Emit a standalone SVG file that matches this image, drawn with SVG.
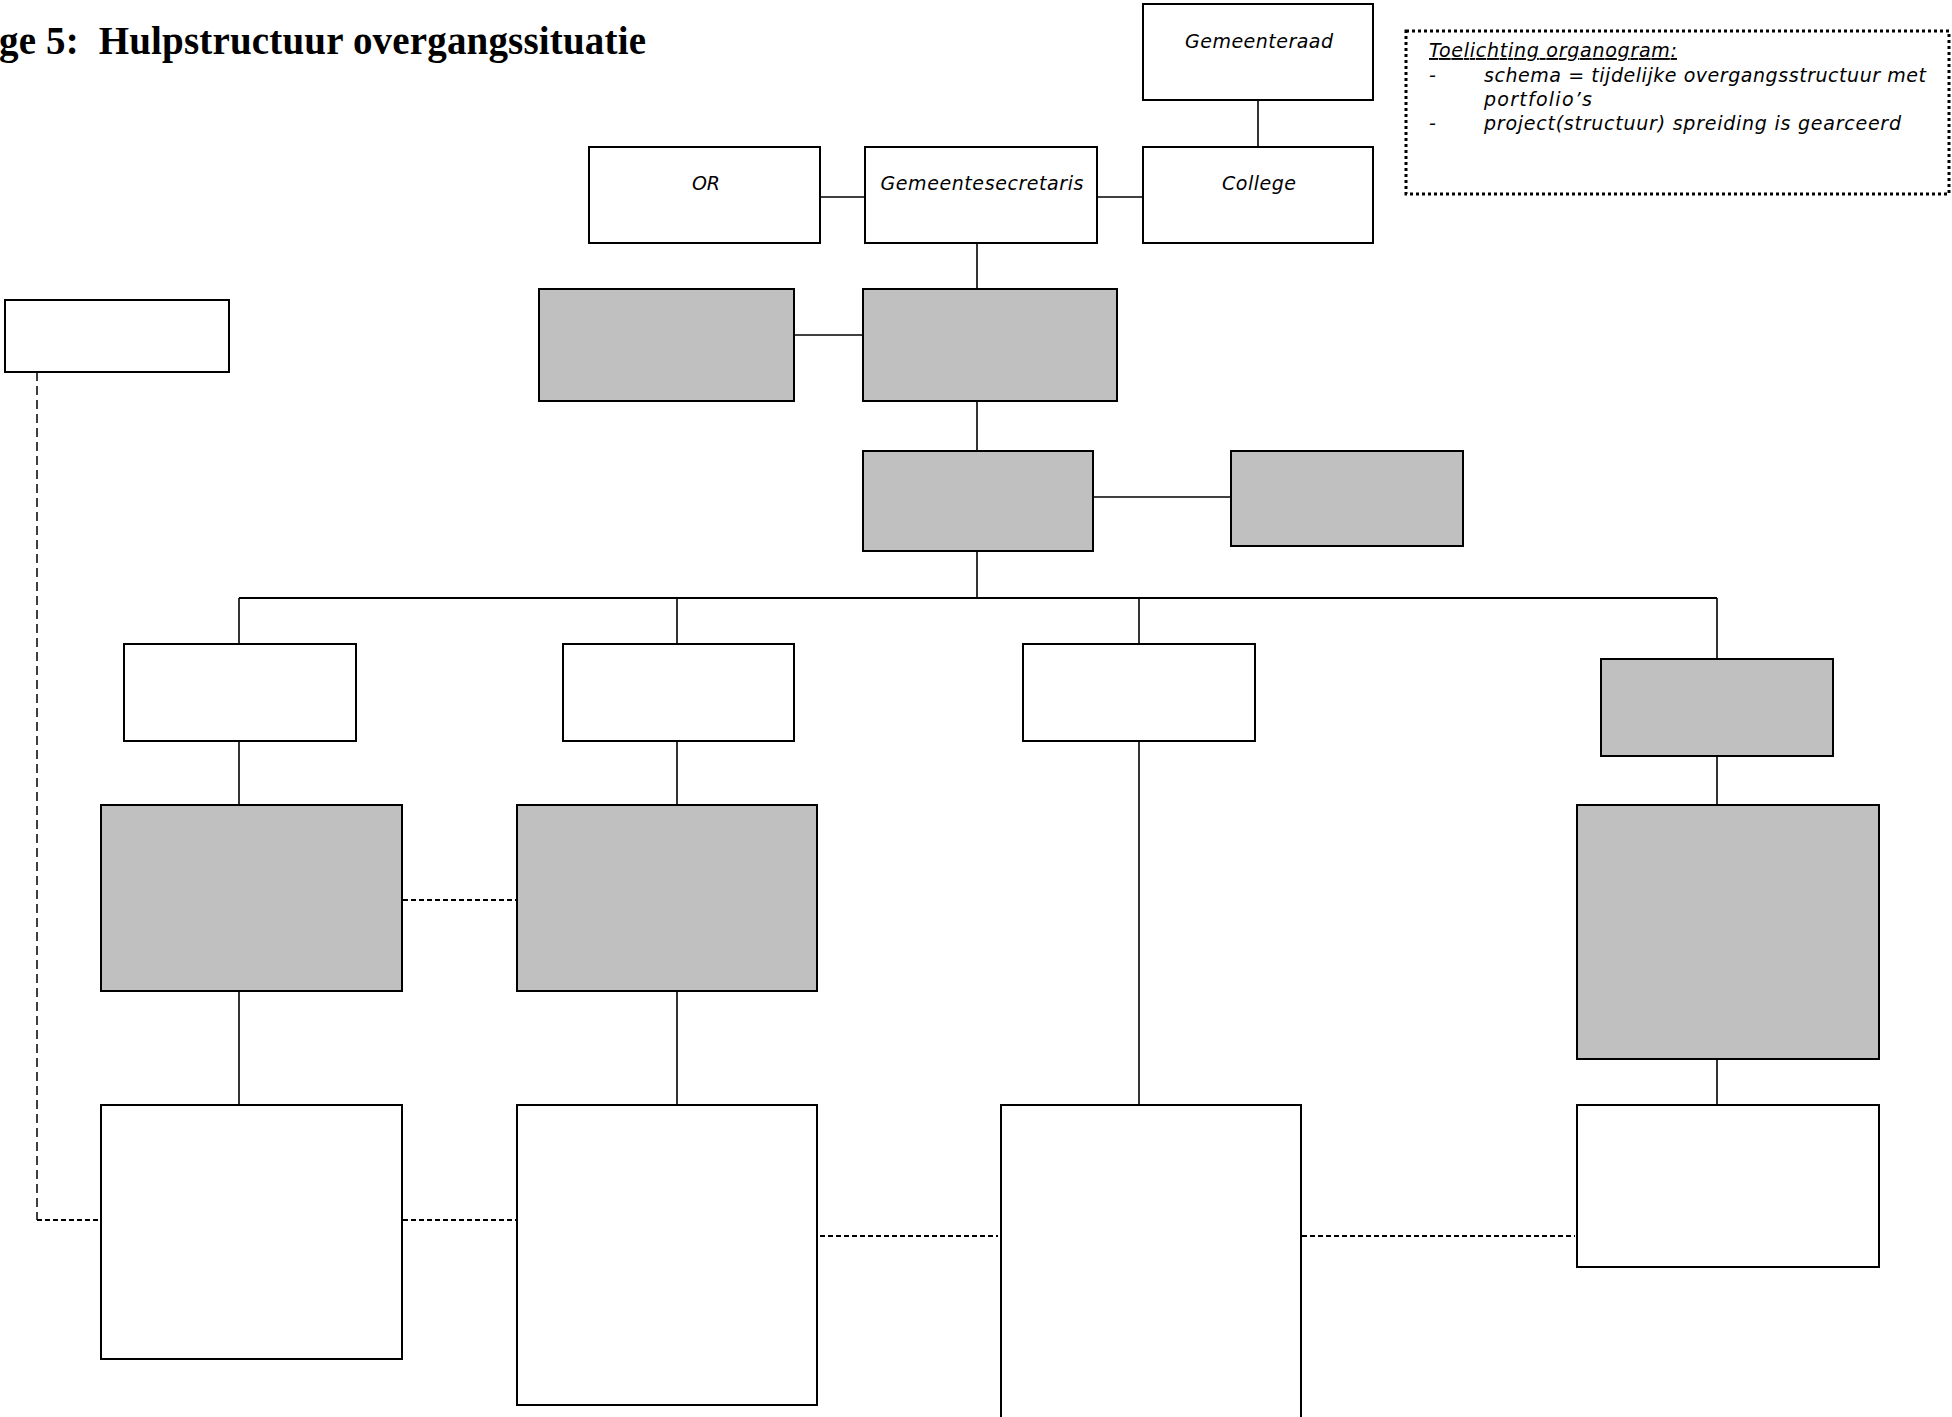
<svg xmlns="http://www.w3.org/2000/svg" width="1952" height="1417" viewBox="0 0 1952 1417">
<style>
  .box { fill: #ffffff; stroke: #000000; stroke-width: 2; }
  .gray { fill: #c0c0c0; stroke: #000000; stroke-width: 2; }
  .ln { stroke: #000000; stroke-width: 1.6; fill: none; }
  .dash { stroke: #000000; stroke-width: 2.2; fill: none; stroke-dasharray: 5 3; }
  .vdash { stroke: #000000; stroke-width: 1.5; fill: none; stroke-dasharray: 9 5; }
  .lbl { font-family: "DejaVu Sans", "Liberation Sans", sans-serif; font-style: italic; font-size: 19px; fill: #000000; text-anchor: middle; }
  .note { font-family: "DejaVu Sans", "Liberation Sans", sans-serif; font-style: italic; font-size: 19px; fill: #000000; }
  .title { font-family: "Liberation Serif", "DejaVu Serif", serif; font-weight: bold; font-size: 39px; fill: #000000; }
</style>
<rect x="0" y="0" width="1952" height="1417" fill="#ffffff"/>
<text class="title" x="-1" y="54" textLength="647" lengthAdjust="spacing">ge 5:&#160; Hulpstructuur overgangssituatie</text>

<g id="connectors">
  <line class="ln" x1="1258" y1="100" x2="1258" y2="147"/>
  <line class="ln" x1="820" y1="197" x2="865" y2="197"/>
  <line class="ln" x1="1097" y1="197" x2="1143" y2="197"/>
  <line class="ln" x1="977" y1="243" x2="977" y2="289"/>
  <line class="ln" x1="794" y1="335" x2="863" y2="335"/>
  <line class="ln" x1="977" y1="401" x2="977" y2="451"/>
  <line class="ln" x1="1093" y1="497" x2="1231" y2="497"/>
  <line class="ln" x1="977" y1="551" x2="977" y2="598"/>
  <line class="ln" x1="239" y1="598" x2="1717" y2="598" style="stroke-width:2"/>
  <line class="ln" x1="239" y1="598" x2="239" y2="644"/>
  <line class="ln" x1="677" y1="598" x2="677" y2="644"/>
  <line class="ln" x1="1139" y1="598" x2="1139" y2="644"/>
  <line class="ln" x1="1717" y1="598" x2="1717" y2="659"/>
  <line class="ln" x1="239" y1="741" x2="239" y2="805"/>
  <line class="ln" x1="677" y1="741" x2="677" y2="805"/>
  <line class="ln" x1="1139" y1="741" x2="1139" y2="1105"/>
  <line class="ln" x1="1717" y1="756" x2="1717" y2="805"/>
  <line class="ln" x1="239" y1="991" x2="239" y2="1105"/>
  <line class="ln" x1="677" y1="991" x2="677" y2="1105"/>
  <line class="ln" x1="1717" y1="1059" x2="1717" y2="1105"/>
  <line class="dash" x1="403" y1="900" x2="516" y2="900"/>
  <polyline class="vdash" points="37,372 37,1220"/>
  <line class="dash" x1="37" y1="1220" x2="100" y2="1220"/>
  <line class="dash" x1="403" y1="1220" x2="516" y2="1220"/>
  <line class="dash" x1="820" y1="1236" x2="998" y2="1236"/>
  <line class="dash" x1="1302" y1="1236" x2="1575" y2="1236"/>
</g>

<g id="gemeenteraad"><rect class="box" x="1143" y="4" width="230" height="96"/><text class="lbl" x="1259" y="48" textLength="148" lengthAdjust="spacing">Gemeenteraad</text></g>
<g id="college"><rect class="box" x="1143" y="147" width="230" height="96"/><text class="lbl" x="1259" y="190" textLength="74" lengthAdjust="spacing">College</text></g>
<g id="or"><rect class="box" x="589" y="147" width="231" height="96"/><text class="lbl" x="706" y="190">OR</text></g>
<g id="gemeentesecretaris"><rect class="box" x="865" y="147" width="232" height="96"/><text class="lbl" x="982" y="190" textLength="203" lengthAdjust="spacing">Gemeentesecretaris</text></g>

<g id="node-p"><rect class="box" x="5" y="300" width="224" height="72"/></g>
<g id="node-a"><rect class="gray" x="539" y="289" width="255" height="112"/></g>
<g id="node-b"><rect class="gray" x="863" y="289" width="254" height="112"/></g>
<g id="node-c"><rect class="gray" x="863" y="451" width="230" height="100"/></g>
<g id="node-d"><rect class="gray" x="1231" y="451" width="232" height="95"/></g>
<g id="node-e"><rect class="box" x="124" y="644" width="232" height="97"/></g>
<g id="node-f"><rect class="box" x="563" y="644" width="231" height="97"/></g>
<g id="node-g"><rect class="box" x="1023" y="644" width="232" height="97"/></g>
<g id="node-h"><rect class="gray" x="1601" y="659" width="232" height="97"/></g>
<g id="node-i"><rect class="gray" x="101" y="805" width="301" height="186"/></g>
<g id="node-j"><rect class="gray" x="517" y="805" width="300" height="186"/></g>
<g id="node-k"><rect class="gray" x="1577" y="805" width="302" height="254"/></g>
<g id="node-l"><rect class="box" x="101" y="1105" width="301" height="254"/></g>
<g id="node-m"><rect class="box" x="517" y="1105" width="300" height="300"/></g>
<g id="node-n"><rect class="box" x="1001" y="1105" width="300" height="340"/></g>
<g id="node-o"><rect class="box" x="1577" y="1105" width="302" height="162"/></g>

<g id="legend">
  <rect x="1406" y="31" width="543" height="163" fill="#ffffff" stroke="#000000" stroke-width="3" stroke-dasharray="3 3"/>
  <text class="note" x="1429" y="57" textLength="248" lengthAdjust="spacing" text-decoration="underline">Toelichting organogram:</text>
  <text class="note" x="1429" y="82">-</text>
  <text class="note" x="1484" y="82" textLength="442" lengthAdjust="spacing">schema = tijdelijke overgangsstructuur met</text>
  <text class="note" x="1484" y="106" textLength="108" lengthAdjust="spacing">portfolio’s</text>
  <text class="note" x="1429" y="130">-</text>
  <text class="note" x="1484" y="130" textLength="417" lengthAdjust="spacing">project(structuur) spreiding is gearceerd</text>
</g>
</svg>
